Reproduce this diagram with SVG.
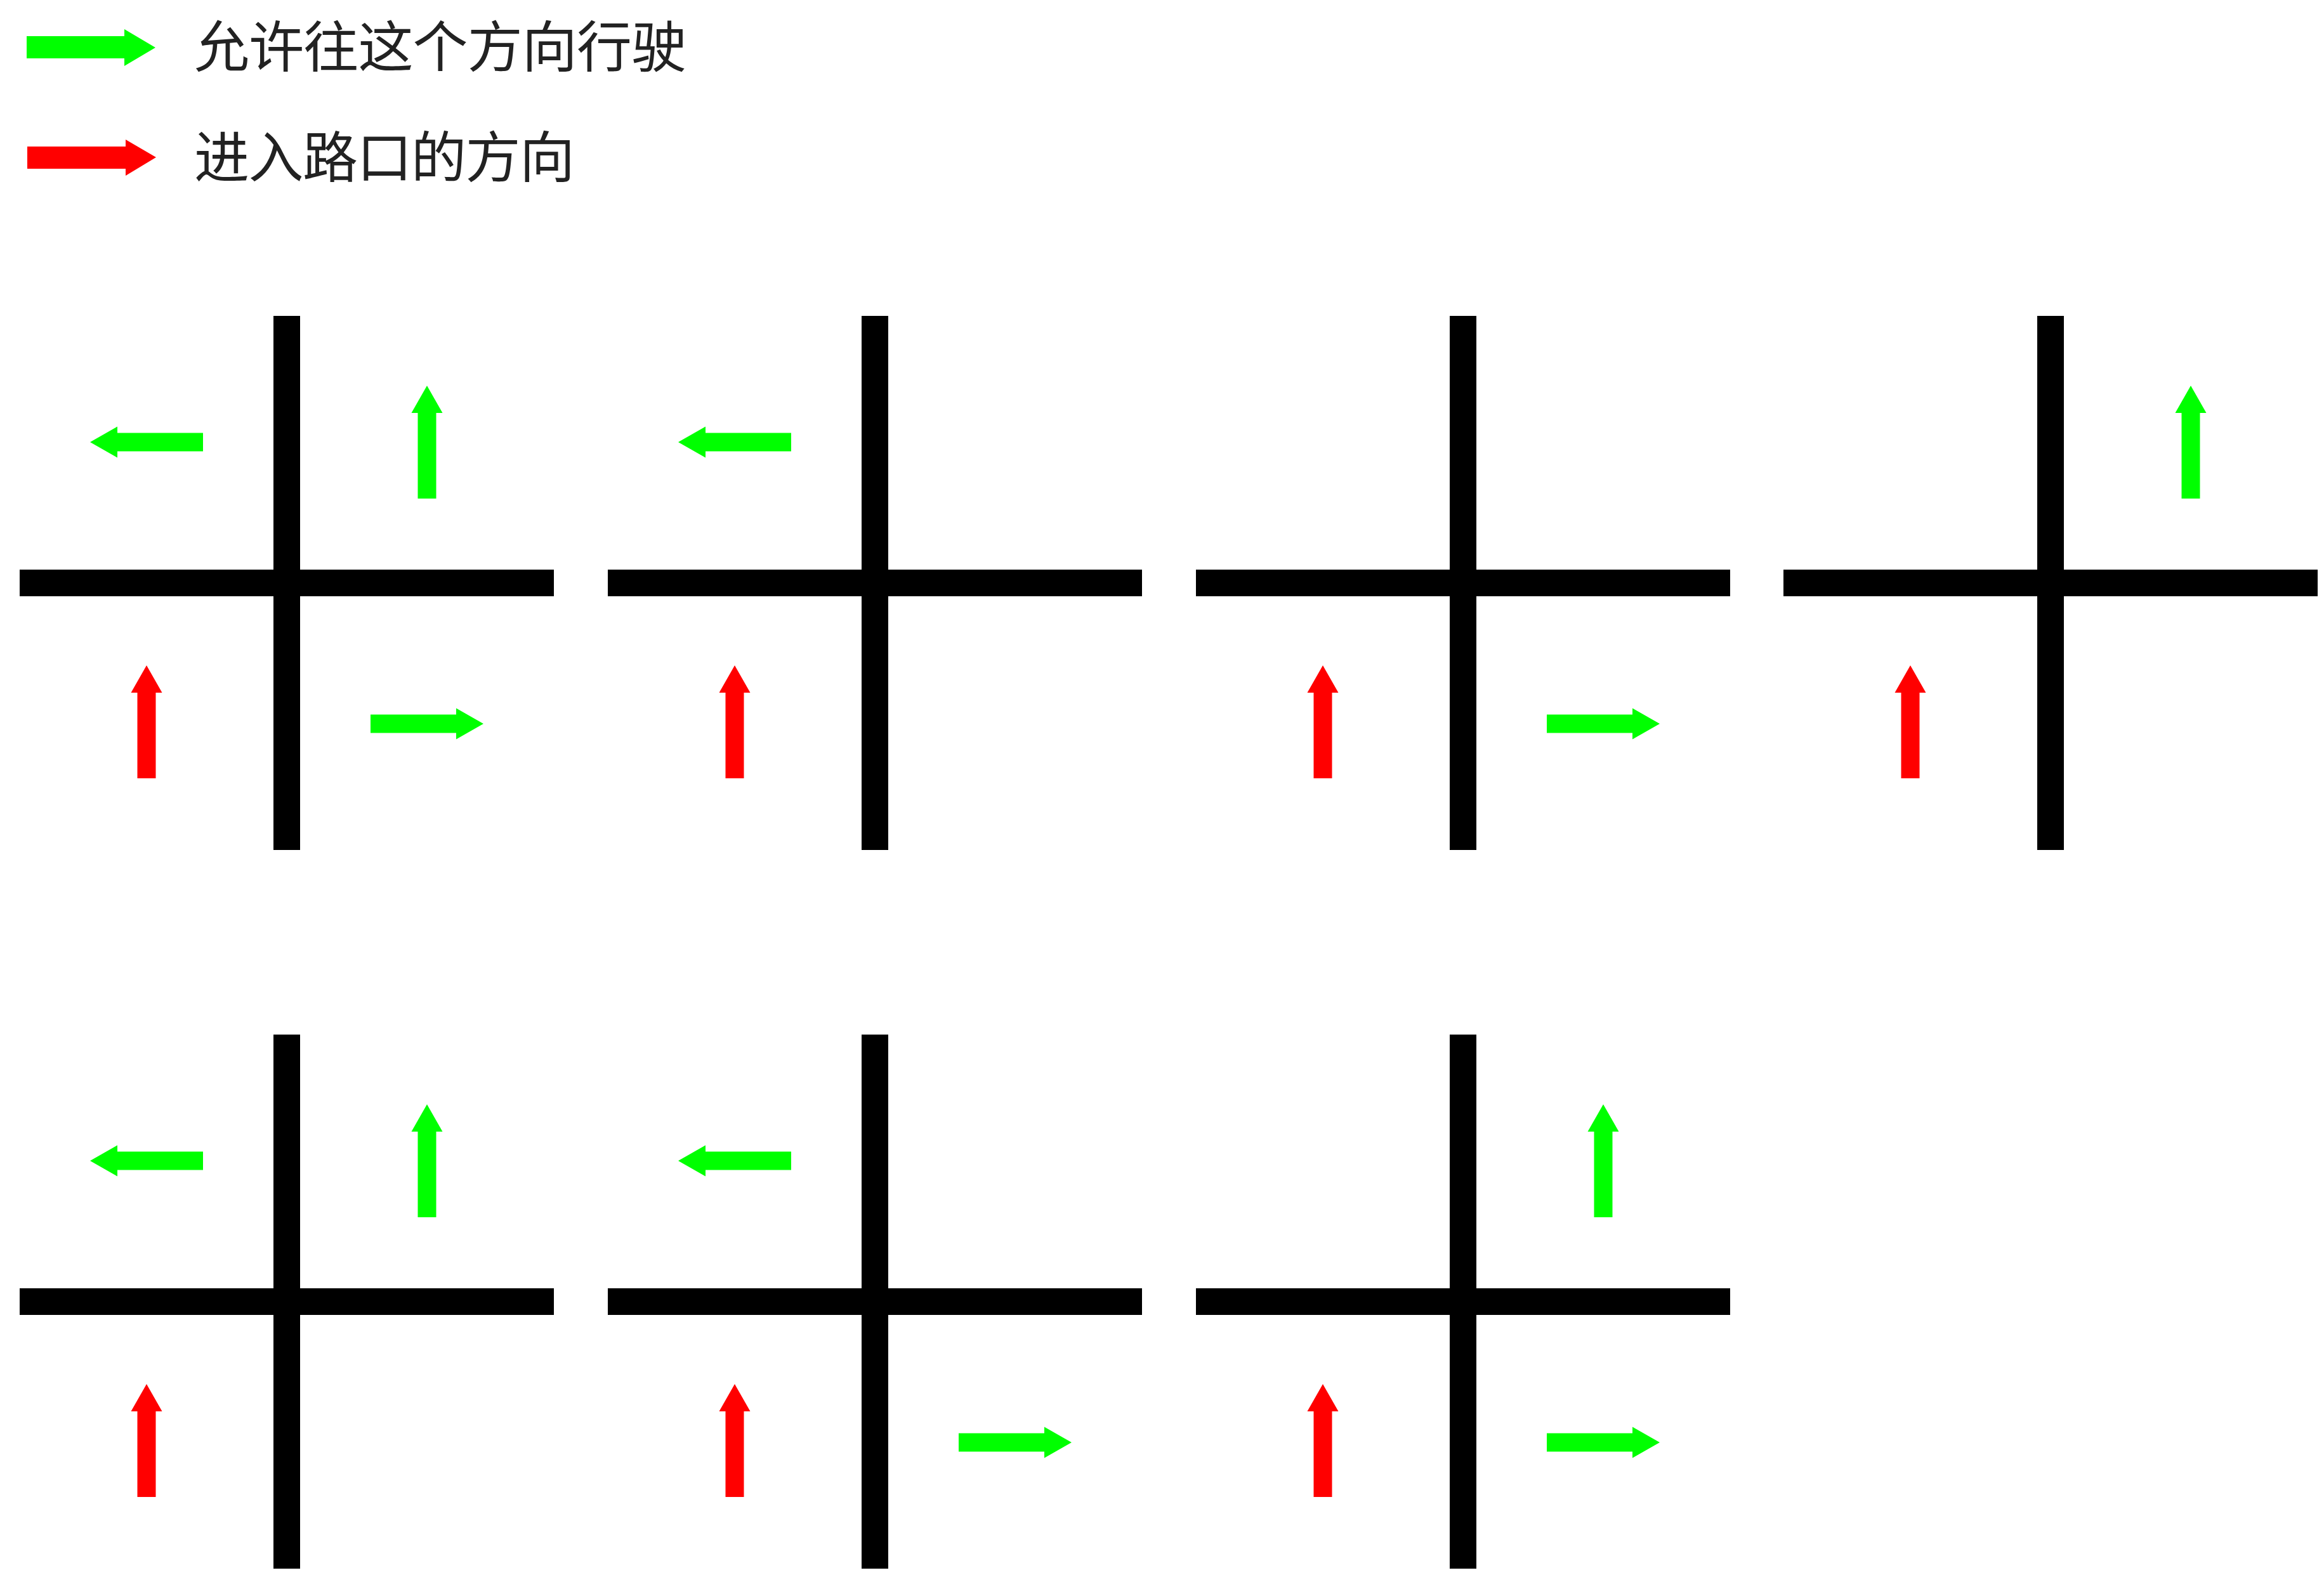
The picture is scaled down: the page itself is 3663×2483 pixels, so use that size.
<svg xmlns="http://www.w3.org/2000/svg" xmlns:xlink="http://www.w3.org/1999/xlink" width="3663" height="2483" viewBox="0 0 3663 2483">
<style>
.road{fill:#000}
.go{fill:#00ff00}
.in{fill:#ff0000}
.lbl{font-family:"Noto Sans CJK SC","Noto Sans",sans-serif;font-size:87px;fill:#222}
</style>
<defs>
<path id="arr" d="M0,-14.5 H135 V-24.5 L178,0 L135,24.5 V14.5 H0 Z"/>
<g id="cross">
<rect class="road" x="-421" y="-21" width="842" height="42"/>
<rect class="road" x="-21" y="-421" width="42" height="842"/>
</g>
<use id="aL" xlink:href="#arr" class="go" transform="translate(-132,-222) rotate(180)"/>
<use id="aU" xlink:href="#arr" class="go" transform="translate(221,-133) rotate(-90)"/>
<use id="aR" xlink:href="#arr" class="go" transform="translate(132,222)"/>
<use id="aIn" xlink:href="#arr" class="in" transform="translate(-221,308) rotate(-90)"/>
</defs>
<rect width="3663" height="2483" fill="#fff"/>
<g id="legend">
<path class="go" d="M42,57 H196 V46 L245,75 L196,104 V92 H42 Z"/>
<text class="lbl" x="306" y="106" textLength="776" lengthAdjust="spacing">允许往这个方向行驶</text>
<path class="in" d="M43,231 H198 V220 L246,248 L198,277 V266 H43 Z"/>
<text class="lbl" x="306" y="280" textLength="600" lengthAdjust="spacing">进入路口的方向</text>
</g>
<g id="i1" transform="translate(452,919)">
<use xlink:href="#cross"/><use xlink:href="#aL"/><use xlink:href="#aU"/><use xlink:href="#aR"/><use xlink:href="#aIn"/>
</g>
<g id="i2" transform="translate(1379,919)">
<use xlink:href="#cross"/><use xlink:href="#aL"/><use xlink:href="#aIn"/>
</g>
<g id="i3" transform="translate(2306,919)">
<use xlink:href="#cross"/><use xlink:href="#aR"/><use xlink:href="#aIn"/>
</g>
<g id="i4" transform="translate(3232,919)">
<use xlink:href="#cross"/><use xlink:href="#aU"/><use xlink:href="#aIn"/>
</g>
<g id="i5" transform="translate(452,2052)">
<use xlink:href="#cross"/><use xlink:href="#aL"/><use xlink:href="#aU"/><use xlink:href="#aIn"/>
</g>
<g id="i6" transform="translate(1379,2052)">
<use xlink:href="#cross"/><use xlink:href="#aL"/><use xlink:href="#aR"/><use xlink:href="#aIn"/>
</g>
<g id="i7" transform="translate(2306,2052)">
<use xlink:href="#cross"/><use xlink:href="#aU"/><use xlink:href="#aR"/><use xlink:href="#aIn"/>
</g>
<g id="connectors"/>
</svg>
